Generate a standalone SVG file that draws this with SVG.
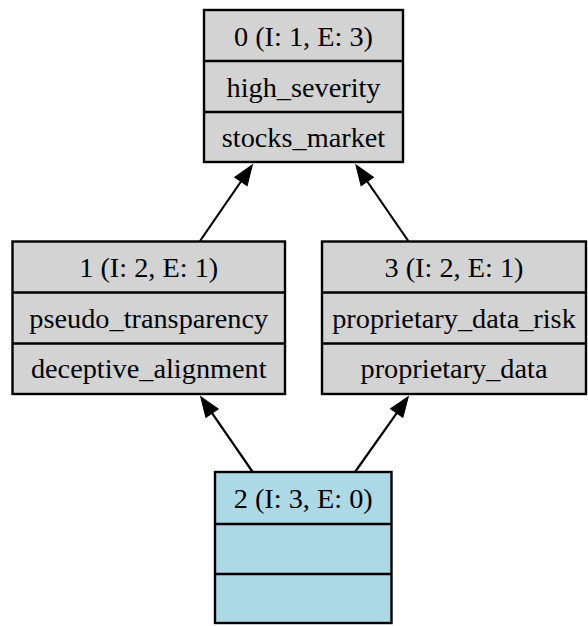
<svg xmlns="http://www.w3.org/2000/svg" width="588" height="626" viewBox="0 0 588 626">
  <style>
    .box { stroke: #000; stroke-width: 2.4; }
    .gray { fill: #d3d3d3; }
    .blue { fill: #add8e6; }
    .div { stroke: #000; stroke-width: 2.4; }
    .lbl { font-family: "Liberation Serif", "Times New Roman", serif; font-size: 28.3px; fill: #000; text-anchor: middle; }
    .edge { stroke: #000; stroke-width: 2.2; fill: none; }
  </style>
  <defs>
    <!-- filled arrowhead, 20 long and 15 wide, drawn from the line end forward -->
    <marker id="arrow" markerUnits="userSpaceOnUse" markerWidth="22" markerHeight="17" refX="0" refY="8.5" orient="auto" viewBox="0 0 22 17" overflow="visible">
      <path d="M0,1 L20,8.5 L0,16 z" fill="#000" stroke="#000" stroke-width="1"/>
    </marker>
  </defs>
  <rect width="588" height="626" fill="#fff"/>

  <!-- connectors -->
  <g id="edges">
    <line class="edge" x1="200" y1="241" x2="240.96" y2="181.5" marker-end="url(#arrow)"/>
    <line class="edge" x1="408.3" y1="241" x2="367.3" y2="181.5" marker-end="url(#arrow)"/>
    <line class="edge" x1="252.7" y1="472" x2="212.06" y2="413.16" marker-end="url(#arrow)"/>
    <line class="edge" x1="355" y1="472" x2="396.74" y2="413.02" marker-end="url(#arrow)"/>
  </g>

  <!-- node 0 -->
  <g id="node0">
    <rect class="box gray" x="204" y="10" width="199" height="152"/>
    <line class="div" x1="204" y1="61" x2="403" y2="61"/>
    <line class="div" x1="204" y1="112" x2="403" y2="112"/>
    <text class="lbl" x="303.5" y="46">0 (I: 1, E: 3)</text>
    <text class="lbl" x="303.5" y="96.5">high_severity</text>
    <text class="lbl" x="303.5" y="147">stocks_market</text>
  </g>

  <!-- node 1 -->
  <g id="node1">
    <rect class="box gray" x="12.5" y="241.5" width="272.5" height="152.5"/>
    <line class="div" x1="12.5" y1="292.5" x2="285" y2="292.5"/>
    <line class="div" x1="12.5" y1="343.5" x2="285" y2="343.5"/>
    <text class="lbl" x="148.75" y="277">1 (I: 2, E: 1)</text>
    <text class="lbl" x="148.75" y="327.5">pseudo_transparency</text>
    <text class="lbl" x="148.75" y="378">deceptive_alignment</text>
  </g>

  <!-- node 3 -->
  <g id="node3">
    <rect class="box gray" x="322" y="241.5" width="264" height="152.5"/>
    <line class="div" x1="322" y1="292.5" x2="586" y2="292.5"/>
    <line class="div" x1="322" y1="343.5" x2="586" y2="343.5"/>
    <text class="lbl" x="454" y="277">3 (I: 2, E: 1)</text>
    <text class="lbl" x="454" y="327.5">proprietary_data_risk</text>
    <text class="lbl" x="454" y="378">proprietary_data</text>
  </g>

  <!-- node 2 -->
  <g id="node2">
    <rect class="box blue" x="215" y="472" width="176.5" height="151"/>
    <line class="div" x1="215" y1="524" x2="391.5" y2="524"/>
    <line class="div" x1="215" y1="574" x2="391.5" y2="574"/>
    <text class="lbl" x="303.25" y="507.5">2 (I: 3, E: 0)</text>
  </g>
</svg>
